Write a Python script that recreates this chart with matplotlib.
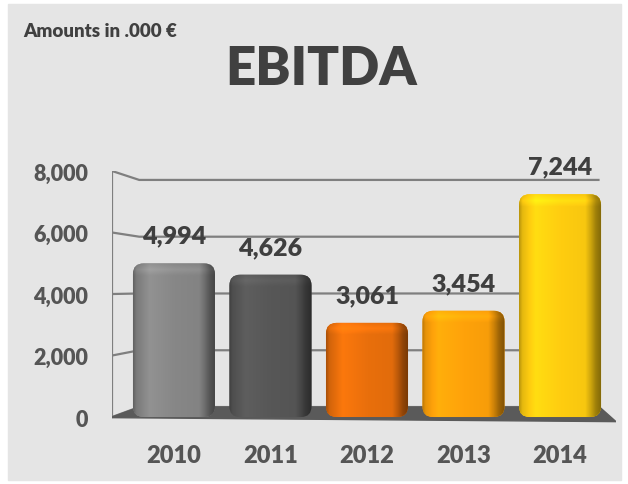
import numpy as np
import matplotlib.pyplot as plt
from matplotlib.patches import FancyBboxPatch, Rectangle, Polygon
from matplotlib.colors import to_rgb

years = ['2010', '2011', '2012', '2013', '2014']
ebitda = [4994, 4626, 3061, 3454, 7244]
bar_colors = ['#878787', '#575757', '#e96f0c', '#ffa20a', '#ffcd10']
ticks = [0, 2000, 4000, 6000, 8000]

plt.rcParams['font.family'] = ['Lato', 'DejaVu Sans']
plt.rcParams['font.weight'] = 'heavy'

fig = plt.figure(figsize=(6.28, 4.85), dpi=100)
fig.patches.append(Rectangle((8 / 628, 4 / 485), 613 / 628, 476 / 485,
                             transform=fig.transFigure, color='#e5e5e5', zorder=-10))
ax = fig.add_axes([112 / 628, 0.1254, 504 / 628, 0.52])
ax.set_zorder(1)
ax.set_facecolor('none')
for s in ax.spines.values():
    s.set_visible(False)

x0, x1 = -0.642, 4.58
y0, y1 = -200, 8000

# fake 3d: back wall is shifted up a little and squashed
back_x, back_end = -0.36, 4.41
shift, squash = 325, 0.923
for t in ticks:
    yb = shift + squash * t
    ax.plot([x0, back_x, back_end], [t, yb, yb], color='#7f7f7f', lw=1.6,
            zorder=1, solid_capstyle='butt')
ax.plot([x0, x0], [0, 8000], color='#7f7f7f', lw=1.6, zorder=1)
floor = Polygon([(x0, 0), (back_x, shift), (back_end, shift), (x1, -150), (x0, -20)],
                closed=True, color='#5a5a5a', zorder=2)
ax.add_patch(floor)

# bars with a rounded top and some shading
width = 0.85
units_per_px = (y1 - y0) / 252.0
px = np.linspace(0, 1, 200)
shade = np.interp(px, [0, 0.04, 0.2, 0.5, 0.8, 0.87, 0.93, 1],
                  [0.72, 0.9, 1.08, 1.0, 0.97, 0.8, 0.62, 0.5])
for i, (v, c) in enumerate(zip(ebitda, bar_colors)):
    left = i - width / 2
    patch = FancyBboxPatch((left, 0), width, v,
                           boxstyle='round,pad=0,rounding_size=0.11',
                           mutation_aspect=3139, facecolor=c, edgecolor='none', zorder=3)
    ax.add_patch(patch)
    # lighter rim along the top
    rows = np.linspace(1, 0, 150)
    top_frac = 12 * units_per_px / v
    vert = np.interp(rows, [0, 1 - top_frac, 1 - top_frac * 0.5, 1], [1.0, 1.0, 1.1, 1.0])
    rgb = np.array(to_rgb(c))[None, None, :] * shade[None, :, None] * vert[:, None, None]
    rgb = np.clip(rgb, 0, 1)
    img = ax.imshow(rgb, extent=(left, left + width, 0, v), aspect='auto',
                    zorder=4, interpolation='bilinear')
    img.set_clip_path(patch)
    ax.annotate(f'{v:,}', (i, v), xytext=(0, 20), textcoords='offset points',
                ha='center', va='center', fontsize=18, color='#3f3f3f',
                fontweight='heavy', zorder=5)

ax.set_xlim(x0, x1)
ax.set_ylim(y0, y1)
ax.set_yticks(ticks)
ax.set_yticklabels([f'{t:,}' for t in ticks], fontweight='heavy')
ax.set_xticks(range(len(years)))
ax.set_xticklabels(years, fontweight='heavy')
ax.tick_params(axis='y', length=0, pad=17, labelsize=15.5, labelcolor='#555555')
ax.tick_params(axis='x', length=0, pad=15, labelsize=17, labelcolor='#555555')

fig.text(321 / 628, (485 - 85) / 485, 'EBITDA', ha='center', va='baseline',
         fontsize=38, fontweight='heavy', color='#404040')
fig.text(23 / 628, (485 - 37) / 485, 'Amounts in .000 €', ha='left', va='baseline',
         fontsize=13.5, fontweight='heavy', color='#404040')

fig.savefig('out.png', dpi=100)
